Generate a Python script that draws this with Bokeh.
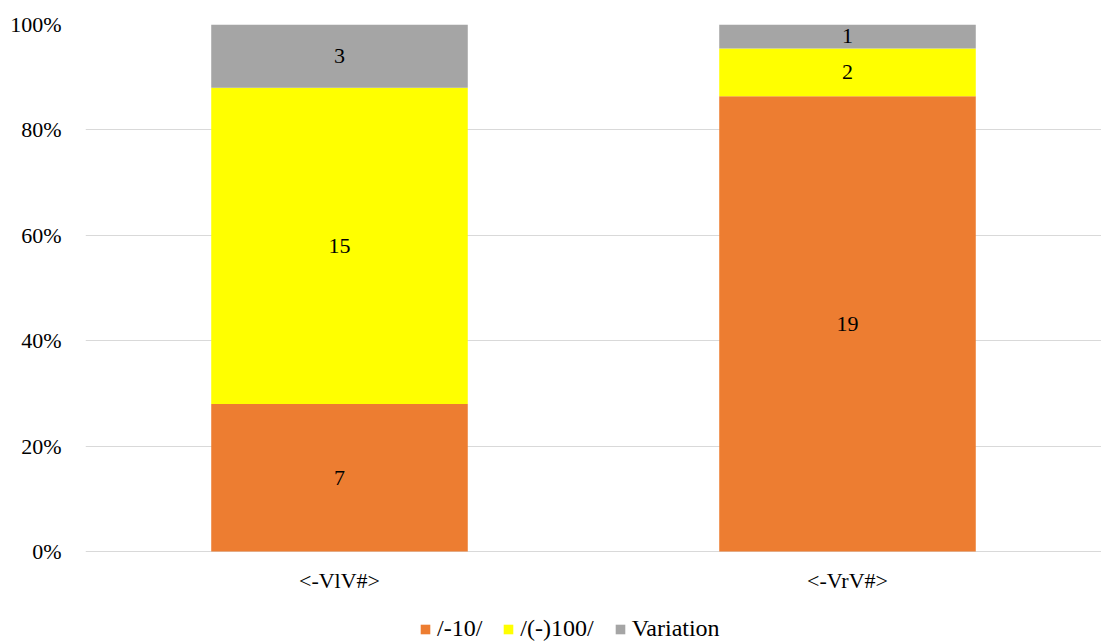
from bokeh.plotting import figure
from bokeh.models import ColumnDataSource, Range1d, FactorRange, Legend, LegendItem, NumeralTickFormatter, FixedTicker
from bokeh.core.properties import value
from bokeh.embed import file_html
from bokeh.resources import INLINE

categories = ["<-VlV#>", "<-VrV#>"]
series_names = ["/-10/", "/(-)100/", "Variation"]
s_10 = [7, 19]
s_100 = [15, 2]
s_var = [3, 1]
colors = ["#ED7D31", "#FFFF00", "#A5A5A5"]

FONT = "'Liberation Serif', 'Times New Roman', 'DejaVu Serif', serif"
FS = "22px"
FS_LEG = "24px"

totals = [a + b + c for a, b, c in zip(s_10, s_100, s_var)]
series = [s_10, s_100, s_var]
keys = ["a", "b", "c"]
data = {"cat": categories}
for k, s in zip(keys, series):
    data[k] = [v / t for v, t in zip(s, totals)]
source = ColumnDataSource(data)

PX_PER_UNIT = 527.0          # pixel height of 0..100 %
FRAME_H = 618                # frame extends down to hold labels and legend
y_min = -(FRAME_H - PX_PER_UNIT) / PX_PER_UNIT

p = figure(x_range=FactorRange(*categories, range_padding=0), y_range=Range1d(y_min, 1),
           frame_width=1016, frame_height=FRAME_H, output_backend="svg", toolbar_location=None,
           min_border_left=85, min_border_right=0, min_border_top=24, min_border_bottom=0)
p.outline_line_color = None

renderers = p.vbar_stack(keys, x="cat", width=0.505, source=source, color=colors, line_color=None)

# value labels
lx, ly, lt = [], [], []
for i, c in enumerate(categories):
    base = 0.0
    for s in series:
        frac = s[i] / totals[i]
        lx.append(c)
        ly.append(base + frac / 2)
        lt.append(str(s[i]))
        base += frac
p.text(x=lx, y=ly, text=lt, text_align="center", text_baseline="middle",
       text_font=value(FONT), text_font_size=FS, text_color="#000000")

# category labels (x axis hidden; labels drawn below the 0 % line)
p.text(x=categories, y=[-29 / PX_PER_UNIT] * len(categories), text=categories,
       text_align="center", text_baseline="middle",
       text_font=value(FONT), text_font_size=FS, text_color="#000000")
p.xaxis.visible = False

p.yaxis.ticker = FixedTicker(ticks=[0, 0.2, 0.4, 0.6, 0.8, 1.0])
p.yaxis.formatter = NumeralTickFormatter(format="0%")
p.yaxis.axis_line_color = None
p.yaxis.major_tick_line_color = None
p.yaxis.minor_tick_line_color = None
p.yaxis.major_label_text_font = FONT
p.yaxis.major_label_text_font_size = FS
p.yaxis.major_label_text_color = "#000000"
p.yaxis.major_label_standoff = 18

p.xgrid.grid_line_color = None
p.ygrid.grid_line_color = "#D9D9D9"

legend = Legend(items=[LegendItem(label=n, renderers=[r]) for n, r in zip(series_names, renderers)],
                orientation="horizontal", location=(334, 0),
                label_text_font=FONT, label_text_font_size=FS_LEG, label_text_color="#000000",
                glyph_width=12, glyph_height=12, spacing=20, label_standoff=6,
                border_line_color=None, background_fill_alpha=0, margin=0, padding=0)
p.add_layout(legend, "center")

open("out.html", "w").write(file_html(p, INLINE))
